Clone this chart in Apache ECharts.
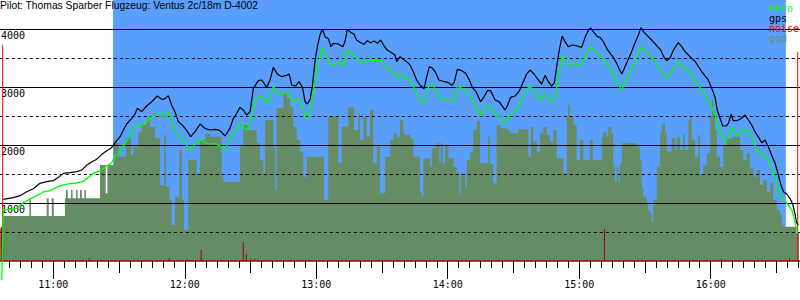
<!DOCTYPE html>
<html><head><meta charset="utf-8">
<script src="https://cdn.jsdelivr.net/npm/echarts@6/dist/echarts.min.js"></script>
<style>html,body{margin:0;padding:0;background:#fff}#c{width:800px;height:300px}</style>
</head><body><div id="c"></div>
<script>
// time values are minutes after midnight, altitudes in metres
const titleText = 'Pilot: Thomas Sparber Flugzeug: Ventus 2c/18m D-4002';
const legendNames = ['baro', 'gps', 'noise', 'gnd'];
const taskWindow = [687.25, 994.3];
const altLabels = [1000, 2000, 3000, 4000];

const gps = [[637.2,1063],[641.8,1092],[644.8,1126],[647.9,1195],[650.9,1247],[653.9,1339],[657.0,1368],[660.0,1385],[662.3,1442],[664.6,1511],[667.6,1523],[670.7,1540],[673.0,1569],[675.2,1649],[677.5,1707],[679.8,1753],[682.1,1839],[684.4,1902],[686.6,1954],[688.2,2040],[690.5,2144],[692.0,2259],[693.5,2362],[695.8,2460],[697.3,2534],[698.4,2632],[700.3,2575],[702.6,2672],[704.9,2747],[707.5,2845],[709.5,2787],[711.0,2799],[712.5,2851],[714.0,2690],[715.5,2575],[717.1,2402],[719.0,2339],[720.9,2247],[722.7,2144],[724.7,2230],[727.0,2362],
[729.2,2287],[731.5,2259],[733.8,2270],[736.1,2247],[738.4,2155],[740.6,2287],[742.2,2460],[743.7,2546],[745.2,2649],[746.7,2603],[748.2,2517],[749.8,2575],[751.3,2977],[753.6,3109],[755.1,3121],[757.4,2994],[758.9,3121],[760.4,3339],[762.2,3224],[764.2,3178],[766.5,3201],[767.7,3224],[768.8,3034],[770.6,3017],[772.1,3092],[773.7,2994],[774.9,2747],[775.9,2707],[777.2,2787],[778.2,3006],[779.4,3437],[780.5,3695],[781.7,3896],[782.8,4000],[784.0,3868],[785.5,3833],[786.7,3695],[787.8,3753],[790.1,3741],[792.1,3695],[793.1,3782],[794.2,3994],[795.7,3942],[797.2,3914],[798.4,3810],[800.3,3764],[801.8,3736],[803.3,3799],[804.8,3764],[806.4,3793],[807.9,3753],[809.4,3810],[810.9,3707],[812.4,3638],[814.4,3592],[815.9,3552],[816.7,3437],[818.2,3523],
[819.7,3477],[821.3,3437],[822.8,3379],[824.3,3264],[825.8,3121],[827.3,3034],[829.2,2971],[830.4,3178],[831.6,3350],[833.0,3327],[834.5,3247],[836.0,3121],[838.0,3098],[840.3,3075],[841.8,3029],[842.9,3075],[844.4,3305],[846.4,3282],[848.2,3236],[849.7,3132],[851.2,2994],[852.9,2919],[855.0,2747],[856.6,2833],[858.1,2937],[859.6,2937],[861.6,2776],[863.4,2747],[864.9,2672],[866.1,2603],[867.2,2672],[868.7,2822],[870.7,2845],[872.5,2919],[874.5,3092],[876.0,3224],[877.5,3293],[879.4,3224],[881.3,3121],[882.9,3052],[884.4,3201],[885.9,3092],[887.4,3017],[888.7,3075],[889.7,3350],[890.9,3638],[892.2,3879],[893.5,3782],[895.0,3695],[897.0,3724],[899.1,3707],[901.1,3684],[902.7,3856],[904.2,3983],[905.2,4017],[906.7,3942],[908.3,3868],[909.5,3856],
[911.0,3782],[912.5,3667],[914.1,3580],[915.6,3511],[917.1,3408],[918.3,3305],[919.4,3224],[920.9,3350],[922.4,3477],[923.9,3609],[925.5,3764],[927.0,3896],[928.1,4023],[929.6,3942],[931.1,3885],[932.6,3828],[934.1,3770],[935.7,3695],[937.2,3638],[938.7,3511],[939.9,3454],[941.4,3494],[943.0,3638],[945.2,3764],[946.8,3695],[948.3,3609],[949.8,3552],[951.3,3494],[952.8,3448],[954.4,3350],[955.9,3264],[957.4,3190],[958.9,3121],[960.5,2977],[962.0,2822],[963.0,2603],[964.3,2460],[965.5,2328],[967.0,2328],[968.1,2374],[969.3,2529],[970.3,2419],[971.9,2419],[973.7,2454],[975.7,2517],[977.2,2431],[978.7,2345],[980.2,2230],[981.7,2144],[983.3,2040],[984.8,2086],[986.3,1971],[987.8,1828],[989.4,1684],[990.9,1483],[991.9,1328],[993.2,1195],[994.7,1155],[996.2,1080],[997.4,983],[998.5,810],[999.2,661],[1000.0,621]];

const baro = [[636.5,-330],[637.2,879],[643.3,908],[646.3,1006],[650.9,1098],[655.5,1190],[658.5,1213],[661.5,1270],[663.8,1305],[666.9,1328],[670.7,1345],[673.7,1374],[676.0,1442],[678.3,1511],[681.3,1552],[684.4,1638],[686.6,1695],[688.2,1810],[690.5,1885],[692.7,2029],[695.0,2172],[697.3,2316],[698.8,2345],[700.3,2328],[702.6,2402],[704.9,2488],[707.2,2517],[708.7,2546],[710.2,2488],[712.5,2575],[714.0,2419],[716.3,2201],[718.6,2115],[720.9,2000],[722.7,1902],[724.7,2017],[727.0,2098],
[729.2,2040],[731.5,2017],[733.8,2029],[736.1,1983],[737.9,1914],[739.9,2029],[741.4,2144],[742.9,2230],[744.4,2316],[745.2,2385],[746.7,2316],[748.2,2259],[749.8,2345],[750.8,2546],[752.0,2776],[754.3,2833],[756.6,2776],[758.1,2718],[759.4,2874],[760.4,3017],[761.9,2919],[763.5,2862],[765.0,2891],[766.8,2902],[768.3,2822],[769.9,2747],[771.4,2787],[772.9,2787],[774.1,2603],[775.3,2460],[776.5,2488],[777.9,2718],[779.0,3017],[780.2,3264],[781.4,3465],[782.6,3667],[784.0,3552],[785.5,3465],[787.0,3379],[789.3,3408],[791.1,3408],[792.4,3362],[793.9,3638],[795.7,3603],[797.2,3523],[799.2,3465],[801.5,3408],[803.3,3477],[805.3,3454],[807.6,3465],[809.9,3437],[811.4,3350],[813.2,3322],[814.7,3282],[815.9,3207],[816.7,3144],[818.2,3224],
[820.5,3167],[822.3,3138],[823.9,3052],[825.4,2919],[826.9,2805],[828.4,2747],[829.3,2707],[830.7,2960],[831.9,3052],[833.4,3017],[835.3,2879],[836.8,2805],[839.1,2776],[841.0,2787],[842.9,2747],[844.4,3017],[846.4,2977],[848.6,2937],[850.9,2805],[852.4,2690],[854.0,2575],[855.5,2500],[857.0,2632],[858.5,2672],[860.1,2649],[861.9,2534],[863.9,2477],[866.1,2362],[867.7,2477],[869.9,2575],[871.8,2615],[873.3,2747],[875.3,2919],[877.2,3006],[879.1,2960],[880.9,2845],[882.4,2764],[883.9,2902],[885.5,2822],[887.4,2747],[889.0,2805],[890.0,3075],[891.2,3322],[892.3,3552],[893.5,3465],[895.0,3379],[897.3,3408],[900.4,3374],[902.7,3523],[904.9,3695],[906.5,3638],[908.0,3580],[909.5,3534],
[911.0,3465],[912.5,3408],[914.1,3322],[915.6,3207],[917.1,3092],[918.3,3017],[919.4,2948],[920.9,3092],[922.4,3207],[923.9,3322],[925.5,3437],[927.0,3580],[928.1,3695],[929.6,3626],[931.1,3580],[932.6,3523],[934.1,3465],[935.7,3379],[937.2,3293],[938.7,3207],[939.9,3167],[941.4,3207],[943.0,3322],[945.2,3437],[946.8,3379],[948.3,3322],[949.8,3264],[951.3,3207],[952.8,3121],[954.4,3034],[955.9,2948],[957.4,2862],[958.9,2776],[960.5,2661],[962.0,2517],[963.0,2374],[964.3,2230],[965.8,2086],[967.0,2057],[968.5,2144],[969.7,2316],[971.1,2201],[972.6,2172],[974.1,2230],[975.7,2270],[977.2,2230],[978.7,2144],[980.2,2000],[981.7,1868],[983.3,1828],[984.8,1810],[986.3,1741],[987.8,1598],[989.4,1454],[990.9,1224],[992.4,1063],[993.9,1034],[995.4,966],[997.0,879],[998.0,764],[998.9,592],[999.7,477]];

const gnd = [[635.7,560],[636.9,776],[649.1,1080],[649.8,776],[657.0,1080],[657.9,776],[659.3,1080],[660.2,776],[665.3,1080],[665.8,1224],[666.6,1080],[668.1,1224],[668.8,1080],[670.4,1224],[671.1,1080],[672.2,1224],[673.0,1080],[674.2,1224],[674.9,1080],[681.3,1655],[683.9,1167],[684.7,1655],[687.7,2040],[689.8,1799],[693.2,2115],[695.5,1828],[696.5,1971],[698.8,2230],[700.3,2345],[702.6,2460],[704.1,2316],[706.4,2115],[708.7,1310],[710.7,2172],[711.4,1282],[713.0,1052],[714.0,621],[715.5,1109],[717.5,1914],[718.7,1052],[719.6,534],[721.6,1741],[725.4,1511],
[727.0,2086],[729.2,2190],[731.5,2144],[736.8,1454],[737.6,1368],[745.2,1971],[746.7,2345],[749.0,2259],[752.8,2029],[754.3,1741],[755.9,1511],[756.6,2431],[760.4,1942],[761.3,1224],[761.9,2632],[765.0,2891],[766.5,2805],[768.0,2661],[769.5,2316],[771.1,2086],[772.6,1885],[774.1,1454],[775.6,1799],[783.5,1052],[785.5,2488],[790.1,1684],[791.6,2316],[794.6,2649],[797.2,2259],[799.2,2546],[800.0,2086],[801.5,2488],[803.0,2144],[804.5,2603],[806.0,1684],[807.6,1971],[809.1,1167],[811.4,1799],[813.7,2086],[815.2,2201],[816.7,2144],
[818.2,2431],[819.7,2201],[820.5,2172],[822.8,2115],[824.3,1799],[827.3,1195],[828.1,1109],[828.9,1770],[831.9,1626],[832.7,1942],[834.9,2029],[836.2,1684],[836.8,2029],[837.7,1684],[838.8,2000],[840.3,1770],[842.6,1626],[844.1,1511],[845.3,1138],[845.9,1511],[847.9,1282],[848.6,1741],[850.2,1885],[851.7,2259],[853.2,2419],[854.7,1684],[858.5,2144],[859.3,1672],[860.8,1339],[862.3,2345],[863.9,2287],[866.9,2259],[868.4,2201],[872.2,2270],[876.8,1799],[878.0,2316],[879.1,2057],[880.6,1885],[882.1,2201],[883.6,2316],[885.2,2172],[886.7,2057],[888.2,2259],[889.7,1770],[892.8,1511],[894.3,2488],[895.0,2690],[895.8,2488],[897.3,2345],[898.8,1741],[900.4,2086],[901.9,1741],[904.9,2086],[906.1,1741],
[909.5,1741],[910.3,2144],[911.0,2230],[912.5,2144],[913.3,2316],[914.8,2201],[915.6,1626],[916.3,1368],[917.1,1626],[917.9,1368],[918.6,1684],[919.4,2029],[926.2,1971],[927.7,1741],[928.5,1253],[929.3,1109],[930.8,994],[931.5,879],[932.3,822],[933.1,678],[933.8,1052],[935.4,1626],[936.9,2201],[937.6,2345],[938.4,2374],[939.2,2201],[939.9,1885],[942.2,2115],[943.7,1914],[944.5,2144],[946.0,1914],[947.5,2172],[948.3,1914],[949.8,2431],[950.6,2488],[951.3,2086],[952.8,1799],[954.4,2172],[955.1,1483],[956.6,1655],[958.2,1856],[959.7,2488],[960.5,2776],[961.2,2603],[962.0,2259],[962.7,1799],[964.3,1626],[965.8,2000],[967.3,2115],[970.3,2144],[973.4,1914],[974.9,1741],[976.4,1856],[977.9,1598],[979.5,1454],[981.0,1569],[982.5,1310],[984.0,1397],[985.6,1195],[987.1,1339],[988.6,1052],[990.1,879],[991.6,793],[992.4,621],[993.2,592],[999.2,477],[1000.3,477]];

const noiseSpikes = [[636.3,591],[676.4,47],[712.9,47],[721.2,30],[727.5,190],[746.7,333],[748.1,120],[750.0,35],[751.7,35],[911.5,552],[964.7,35],[995.9,45]];
const noiseEnds = [[636.9,3724],[999.7,3603]];

const fmtTime = v => Math.floor(v / 60) + ':' + String(Math.round(v % 60)).padStart(2, '0');
const mono = 'DejaVu Sans Mono';
const legendColors = {baro: '#00ff00', gps: '#000000', noise: '#ff0000', gnd: '#6a8c69'};

const chart = echarts.init(document.getElementById('c'), null, {renderer: 'svg'});
const xBase = {type: 'value', min: 600, max: 1020, gridIndex: 0, position: 'bottom',
  splitLine: {show: false}, axisLine: {show: false}, axisLabel: {show: false}};
chart.setOption({
  animation: false,
  backgroundColor: '#ffffff',
  title: {text: titleText, left: 0, top: 0, padding: 0,
    textStyle: {fontFamily: 'Liberation Sans', fontSize: 10.3, fontWeight: 'normal', color: '#000'}},
  legend: {orient: 'vertical', right: 1, top: 3.7, padding: 0, itemGap: 0, itemWidth: 0, itemHeight: 9,
    selectedMode: false, icon: 'rect',
    textStyle: {fontFamily: mono, fontSize: 10, lineHeight: 9},
    data: legendNames.map(n => ({name: n, textStyle: {color: legendColors[n]}}))},
  grid: {left: -78.18, top: 0, width: 920.35, height: 261, containLabel: false, outerBoundsMode: 'none'},
  xAxis: [
    Object.assign({}, xBase, {interval: 5, axisLine: {show: true, lineStyle: {color: '#a00000', width: 1.5}},
      axisTick: {show: true, length: 7, lineStyle: {color: '#000'}}}),
    Object.assign({}, xBase, {interval: 30, axisTick: {show: true, length: 12, lineStyle: {color: '#000'}}}),
    Object.assign({}, xBase, {interval: 60, axisTick: {show: true, length: 18, lineStyle: {color: '#000'}},
      axisLabel: {show: true, margin: 18, showMinLabel: false, showMaxLabel: false, formatter: fmtTime,
        fontFamily: mono, fontSize: 10, color: '#000'}})
  ],
  yAxis: [
    {type: 'value', min: 0, max: 4500, interval: 1000, position: 'left', offset: -78.18, z: -2,
      axisLine: {show: false}, axisTick: {show: false}, splitLine: {show: false},
      axisLabel: {inside: true, margin: 1, verticalAlign: 'top', padding: [1, 0, 0, 0],
        showMinLabel: false, showMaxLabel: false, fontFamily: mono, fontSize: 10, color: '#000',
        formatter: v => altLabels.includes(v) ? String(v) : ''}},
    {type: 'value', min: 0, max: 4500, interval: 1000, position: 'right', z: 0,
      axisLine: {show: false}, axisTick: {show: false}, axisLabel: {show: false},
      splitLine: {show: true, showMinLine: false, showMaxLine: false, lineStyle: {color: '#000', width: 1}}},
    {type: 'value', min: 0, max: 4500, interval: 500, position: 'right', z: 0,
      axisLine: {show: false}, axisTick: {show: false}, axisLabel: {show: false},
      splitLine: {show: true, showMinLine: false, showMaxLine: false, lineStyle: {color: '#000', width: 1, type: [3, 3]}}}
  ],
  series: [
    {name: 'task', type: 'line', z: -3, silent: true, symbol: 'none',
      data: [[taskWindow[0], 4500], [taskWindow[1], 4500]],
      lineStyle: {width: 0}, areaStyle: {color: '#5a9efc', opacity: 1}},
    {name: 'gnd', type: 'line', z: -1, step: 'end', symbol: 'none', data: gnd,
      itemStyle: {color: '#658c64'}, lineStyle: {width: 0}, areaStyle: {color: '#658c64', opacity: 1}},
    {name: 'noise', type: 'bar', z: 1, barWidth: 1, barGap: '-100%', data: noiseSpikes, itemStyle: {color: '#a00000'}},
    {name: 'noise', type: 'bar', z: 1, barWidth: 1, barGap: '-100%', data: noiseEnds, itemStyle: {color: '#ff0000'}},
    {name: 'gps', type: 'line', z: 2, symbol: 'none', data: gps, itemStyle: {color: '#000'}, lineStyle: {color: '#000', width: 1.2}},
    {name: 'baro', type: 'line', z: 3, symbol: 'none', clip: false, data: baro, itemStyle: {color: '#00ff00'}, lineStyle: {color: '#00ff00', width: 1.3}}
  ]
});
</script></body></html>
